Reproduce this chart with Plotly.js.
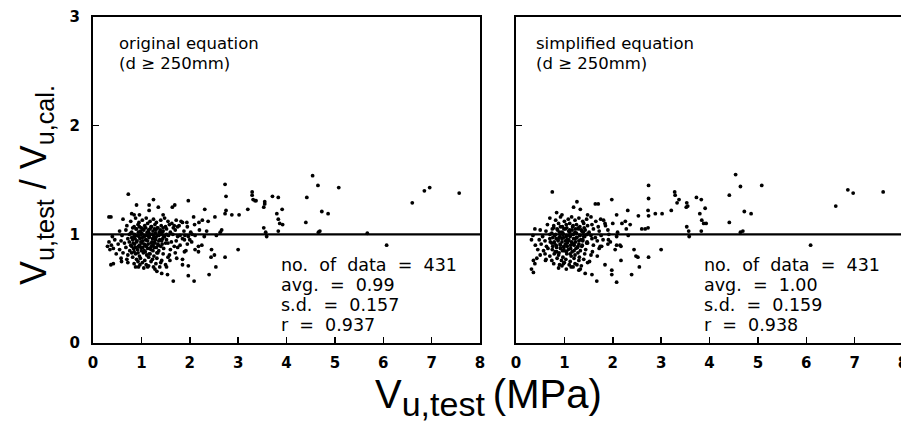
<!DOCTYPE html>
<html>
<head>
<meta charset="utf-8">
<script src="https://cdn.plot.ly/plotly-3.0.1.min.js"></script>
<style>
html,body{margin:0;padding:0;background:#fff;overflow:hidden;width:901px;height:430px;}
#chart{width:906px;height:430px;}
</style>
</head>
<body>
<div id="chart"></div>
<script>
// ---- data ----
const xTicks = [0,1,2,3,4,5,6,7,8];
const yTicks = [0,1,2,3];
const refLineX = [0, 8];
const refLineY = [1, 1];

const leftOuterX = [0.73,2.73,2.75,3.29,3.29,3.35,1.25,0.90,1.16,1.35,1.69,1.64,1.97,2.31,2.75,3.20,1.16,0.33,0.37,0.80,
  0.85,0.96,1.45,2.08,2.26,2.19,2.52,2.73,2.87,3.02,2.38,1.82,1.94,1.68,1.75,2.66,2.63,0.33,0.30,0.35,
  0.37,0.42,0.59,0.94,0.97,1.66,1.85,1.97,1.97,2.09,2.40,2.54,2.45,2.51,2.44,2.73,3.00,3.31,3.37,3.55,
  3.55,3.53,3.71,3.83,3.91,3.80,3.83,3.86,3.92,3.53,3.57,3.59,3.83,4.54,4.65,5.08,4.42,4.73,4.86,4.40,
  4.66,4.69,5.67,6.07,6.60,6.85,6.96,7.57,2.11,2.18,2.18,1.89,1.73,1.59,1.89,2.04,2.11,1.80,1.97,1.52,
  1.42,1.32,1.25,1.13,1.54];
const leftOuterY = [1.37,1.46,1.35,1.39,1.36,1.31,1.32,1.27,1.27,1.25,1.27,1.25,1.31,1.23,1.22,1.23,1.22,1.16,1.16,1.19,
  1.18,1.18,1.18,1.16,1.13,1.11,1.16,1.19,1.18,1.18,1.12,1.12,1.11,1.08,1.07,1.04,1.02,0.93,0.89,0.86,
  0.72,0.73,0.75,0.70,0.72,0.57,0.72,0.71,0.62,0.57,0.63,0.70,0.86,0.81,0.79,0.79,0.86,1.32,1.31,1.30,
  1.28,1.25,1.35,1.34,1.23,1.19,1.14,1.10,1.09,1.06,1.02,0.98,1.03,1.54,1.45,1.43,1.34,1.21,1.19,1.11,
  1.02,1.03,1.01,0.90,1.29,1.40,1.43,1.38,0.86,0.89,0.84,0.84,0.78,0.76,0.95,0.93,0.99,0.99,0.98,0.70,
  0.64,0.66,0.70,0.70,0.63];

const leftCoreX = [0.62,0.78,0.88,0.95,1.02,1.10,1.18,1.25,1.31,1.40,1.48,1.55,1.63,1.72,1.85,
  0.70,0.85,0.93,1.00,1.07,1.13,1.20,1.28,1.34,1.41,1.50,1.58,1.66,1.78,1.95,2.10,
  0.55,0.68,0.80,0.90,0.98,1.05,1.12,1.18,1.24,1.30,1.37,1.45,1.52,1.60,1.70,1.88,2.02,2.20,2.35,
  0.40,0.60,0.75,0.85,0.92,1.00,1.06,1.12,1.19,1.26,1.33,1.40,1.48,1.56,1.65,1.75,1.90,2.05,2.30,2.55,
  0.45,0.58,0.72,0.82,0.90,0.97,1.03,1.10,1.16,1.22,1.29,1.36,1.44,1.52,1.62,1.72,1.85,2.00,
  0.38,0.52,0.65,0.78,0.86,0.94,1.01,1.08,1.14,1.21,1.28,1.35,1.43,1.55,1.68,1.80,1.95,2.25,
  0.42,0.55,0.68,0.76,0.84,0.92,0.99,1.06,1.13,1.20,1.27,1.36,1.46,1.60,1.75,1.92,
  0.48,0.62,0.72,0.80,0.88,0.96,1.04,1.11,1.18,1.26,1.34,1.45,1.58,1.70,
  0.58,0.70,0.82,0.90,0.98,1.07,1.15,1.23,1.32,1.42,1.55,1.85,
  0.72,0.85,0.93,1.02,1.10,1.20,1.30,1.40,1.50,
  0.88,1.05,1.15,1.28,1.38];
const leftCoreY = [1.14,1.12,1.15,1.11,1.13,1.15,1.12,1.14,1.11,1.13,1.15,1.12,1.10,1.13,1.11,
  1.08,1.07,1.09,1.06,1.08,1.10,1.07,1.09,1.06,1.08,1.07,1.09,1.06,1.08,1.07,1.09,
  1.03,1.04,1.02,1.05,1.03,1.04,1.02,1.05,1.03,1.04,1.02,1.03,1.05,1.02,1.04,1.03,1.02,1.04,1.03,
  0.98,0.99,1.00,0.98,0.99,1.00,0.98,0.99,1.00,0.98,0.99,1.00,0.98,0.99,1.00,0.98,0.99,1.00,0.98,0.99,
  0.95,0.94,0.96,0.95,0.93,0.96,0.94,0.95,0.97,0.93,0.95,0.94,0.96,0.95,0.93,0.94,0.96,0.95,
  0.90,0.91,0.92,0.90,0.91,0.89,0.92,0.90,0.91,0.89,0.92,0.90,0.91,0.92,0.89,0.90,0.91,0.90,
  0.87,0.86,0.88,0.85,0.87,0.86,0.88,0.85,0.87,0.86,0.88,0.85,0.87,0.86,0.88,0.85,
  0.82,0.83,0.81,0.83,0.82,0.80,0.83,0.81,0.82,0.80,0.83,0.82,0.81,0.83,
  0.78,0.77,0.79,0.77,0.78,0.76,0.79,0.77,0.78,0.76,0.79,0.77,
  0.74,0.73,0.75,0.74,0.72,0.75,0.73,0.74,0.72,
  0.70,0.69,0.71,0.68,0.70];

const leftDenseX = [0.82,0.89,0.96,1.03,1.09,1.15,1.21,1.27,1.33,1.39,1.45,
  0.78,0.86,0.94,1.01,1.08,1.15,1.22,1.29,1.36,1.43,1.52,
  0.80,0.87,0.95,1.02,1.09,1.16,1.23,1.30,1.38,1.46,
  0.75,0.83,0.91,0.99,1.06,1.13,1.20,1.27,1.34,1.42,1.50,
  0.80,0.88,0.96,1.03,1.10,1.17,1.24,1.31,1.40,
  0.85,0.93,1.00,1.08,1.16,1.24,1.32];
const leftDenseY = [1.06,1.05,1.07,1.05,1.06,1.04,1.07,1.05,1.06,1.04,1.06,
  1.01,1.00,1.02,1.01,0.99,1.02,1.00,1.01,0.99,1.02,1.00,
  0.97,0.96,0.98,0.97,0.95,0.98,0.96,0.97,0.95,0.98,
  0.93,0.92,0.94,0.93,0.91,0.94,0.92,0.93,0.91,0.94,0.92,
  0.89,0.88,0.90,0.88,0.89,0.87,0.90,0.88,0.89,
  0.84,0.83,0.85,0.84,0.82,0.85,0.83];

const rightOuterX = [0.75,2.74,2.74,3.28,3.29,3.33,3.37,1.26,1.19,1.33,1.64,1.70,1.98,2.31,2.73,2.74,2.88,3.02,3.21,2.08,
  0.84,0.95,1.48,2.53,2.19,2.26,2.36,1.84,1.81,2.60,2.67,2.73,0.39,0.32,0.36,0.32,0.36,0.43,0.39,0.61,
  0.95,0.98,1.14,1.26,1.33,1.43,1.57,1.67,1.84,1.98,1.98,2.08,2.39,2.55,2.44,2.48,2.52,2.74,3.00,2.17,
  2.05,2.08,2.17,1.77,1.91,3.53,3.55,3.52,3.73,3.83,3.91,3.80,3.84,3.88,3.93,3.53,3.57,3.58,3.83,4.54,
  4.64,5.08,4.41,4.72,4.86,4.41,4.64,4.69,6.09,6.61,6.86,6.97,7.59];
const rightOuterY = [1.39,1.45,1.33,1.39,1.36,1.29,1.32,1.30,1.25,1.23,1.28,1.28,1.32,1.22,1.22,1.17,1.19,1.19,1.22,1.18,
  1.20,1.18,1.18,1.17,1.10,1.12,1.09,1.10,1.13,1.05,1.05,1.06,1.05,0.95,0.76,0.68,0.65,0.78,0.73,0.76,
  0.71,0.73,0.70,0.72,0.68,0.64,0.63,0.57,0.72,0.67,0.63,0.56,0.63,0.70,0.86,0.80,0.79,0.79,0.86,0.76,
  0.86,0.90,0.89,0.89,0.95,1.29,1.26,1.25,1.34,1.32,1.24,1.19,1.13,1.10,1.10,1.07,1.03,0.98,1.03,1.55,
  1.44,1.45,1.36,1.21,1.19,1.11,1.02,1.03,0.90,1.26,1.41,1.38,1.39];

const rightCoreX = [0.70,0.82,0.92,1.00,1.08,1.15,1.22,1.30,1.38,1.46,1.55,1.65,1.75,
  0.65,0.78,0.88,0.96,1.04,1.11,1.18,1.25,1.32,1.40,1.48,1.57,1.70,1.85,2.00,
  0.50,0.62,0.75,0.86,0.95,1.02,1.09,1.16,1.22,1.29,1.36,1.43,1.51,1.60,1.72,1.90,2.10,2.28,
  0.35,0.55,0.70,0.80,0.89,0.97,1.04,1.11,1.18,1.25,1.32,1.40,1.47,1.55,1.64,1.76,1.92,2.08,2.32,
  0.48,0.60,0.70,0.79,0.87,0.95,1.02,1.09,1.15,1.22,1.30,1.38,1.47,1.57,1.68,1.80,1.95,
  0.40,0.52,0.63,0.74,0.83,0.91,0.99,1.06,1.13,1.20,1.28,1.37,1.48,1.60,1.74,1.90,2.15,
  0.45,0.57,0.66,0.75,0.84,0.92,1.00,1.08,1.16,1.24,1.33,1.44,1.58,1.72,
  0.50,0.60,0.70,0.79,0.88,0.97,1.05,1.14,1.22,1.31,1.42,1.55,1.68,
  0.62,0.74,0.85,0.94,1.03,1.12,1.20,1.30,1.40,1.52,
  0.78,0.90,1.00,1.10,1.22,1.35,1.48,
  0.88,1.04,1.18,1.30];
const rightCoreY = [1.15,1.13,1.16,1.12,1.14,1.16,1.13,1.15,1.12,1.14,1.16,1.12,1.14,
  1.09,1.08,1.10,1.07,1.09,1.10,1.08,1.09,1.07,1.10,1.08,1.09,1.07,1.08,1.10,
  1.04,1.03,1.05,1.04,1.02,1.05,1.03,1.04,1.02,1.05,1.03,1.04,1.02,1.05,1.03,1.04,1.02,1.05,
  0.99,0.98,1.00,0.99,0.97,1.00,0.98,0.99,1.00,0.97,0.99,0.98,1.00,0.99,0.97,0.99,1.00,0.98,0.99,
  0.95,0.94,0.96,0.93,0.95,0.96,0.94,0.95,0.93,0.96,0.94,0.95,0.93,0.96,0.94,0.95,0.93,
  0.90,0.91,0.89,0.92,0.90,0.91,0.89,0.92,0.90,0.91,0.89,0.90,0.92,0.90,0.89,0.91,0.90,
  0.86,0.85,0.87,0.86,0.84,0.87,0.85,0.86,0.84,0.87,0.85,0.86,0.84,0.87,
  0.81,0.82,0.80,0.82,0.81,0.79,0.82,0.80,0.81,0.79,0.82,0.81,0.80,
  0.77,0.76,0.78,0.76,0.77,0.75,0.78,0.76,0.77,0.75,
  0.73,0.72,0.74,0.72,0.73,0.71,0.74,
  0.69,0.68,0.70,0.67];

const rightDenseX = [0.78,0.85,0.92,0.99,1.05,1.11,1.17,1.23,1.29,1.35,1.41,
  0.74,0.82,0.90,0.97,1.04,1.11,1.18,1.25,1.32,1.39,1.47,
  0.76,0.83,0.91,0.98,1.05,1.12,1.19,1.26,1.34,1.42,
  0.71,0.79,0.87,0.95,1.02,1.09,1.16,1.23,1.30,1.38,1.46,
  0.76,0.84,0.92,0.99,1.06,1.13,1.20,1.27,1.36,
  0.81,0.89,0.96,1.04,1.12,1.20,1.28];
const rightDenseY = [1.06,1.05,1.07,1.05,1.06,1.04,1.07,1.05,1.06,1.04,1.06,
  1.01,1.00,1.02,1.01,0.99,1.02,1.00,1.01,0.99,1.02,1.00,
  0.97,0.96,0.98,0.97,0.95,0.98,0.96,0.97,0.95,0.98,
  0.93,0.92,0.94,0.93,0.91,0.94,0.92,0.93,0.91,0.94,0.92,
  0.89,0.88,0.90,0.88,0.89,0.87,0.90,0.88,0.89,
  0.84,0.83,0.85,0.84,0.82,0.85,0.83];

const leftLabel = ["original equation", "(d \u2265 250mm)"];
const rightLabel = ["simplified equation", "(d \u2265 250mm)"];
const leftStats = ["no.\u00a0 of\u00a0 data\u00a0 =\u00a0 431", "avg.\u00a0 =\u00a0 0.99", "s.d.\u00a0 =\u00a0 0.157", "r\u00a0 =\u00a0 0.937"];
const rightStats = ["no.\u00a0 of\u00a0 data\u00a0 =\u00a0 431", "avg.\u00a0 =\u00a0 1.00", "s.d.\u00a0 =\u00a0 0.159", "r\u00a0 =\u00a0 0.938"];
const labelLineY = [2.76, 2.575];
const statLineY = [0.718, 0.534, 0.350, 0.166];

// ---- chart ----
const FONT = "DejaVu Sans, Liberation Sans, sans-serif";
const dotMarker = {color: "#000", size: 3.8, symbol: "circle", line: {width: 0}};

const traces = [
  {x: leftOuterX.concat(leftCoreX, leftDenseX), y: leftOuterY.concat(leftCoreY, leftDenseY), type: "scatter", mode: "markers",
   marker: dotMarker, xaxis: "x", yaxis: "y", hoverinfo: "skip"},
  {x: refLineX, y: refLineY, type: "scatter", mode: "lines", line: {color: "#000", width: 2.4},
   xaxis: "x", yaxis: "y", hoverinfo: "skip"},
  {x: rightOuterX.concat(rightCoreX, rightDenseX), y: rightOuterY.concat(rightCoreY, rightDenseY), type: "scatter", mode: "markers",
   marker: dotMarker, xaxis: "x2", yaxis: "y2", hoverinfo: "skip"},
  {x: refLineX, y: refLineY, type: "scatter", mode: "lines", line: {color: "#000", width: 2.4},
   xaxis: "x2", yaxis: "y2", hoverinfo: "skip"}
];

const W = 906;
const tickFont = {family: FONT, size: 15, color: "#000", weight: "bold"};
function xAx(domain, anchor) {
  return {domain: domain, anchor: anchor, range: [0, 8], tickvals: xTicks, ticktext: xTicks.map(String),
    ticks: "inside", ticklen: 6, tickwidth: 1.5, tickcolor: "#000", ticklabelstandoff: 5,
    ticklabeloverflow: "allow",
    showline: true, linecolor: "#000", linewidth: 2, mirror: true,
    showgrid: false, zeroline: false, tickfont: tickFont, fixedrange: true};
}
function yAx(anchor, labels) {
  return {domain: [0.2023, 0.9605], anchor: anchor, range: [0, 3], tickvals: yTicks, ticktext: yTicks.map(String),
    ticks: "inside", ticklen: 6, tickwidth: 1.5, tickcolor: "#000", ticklabelstandoff: 8,
    showline: true, linecolor: "#000", linewidth: 2, mirror: true,
    showgrid: false, zeroline: false, tickfont: tickFont, showticklabels: labels, fixedrange: true};
}

const annotations = [];
function addLines(lines, ys, xr, yr, x, size) {
  lines.forEach((t, i) => annotations.push({xref: xr, yref: yr, x: x, y: ys[i], xanchor: "left", yanchor: "middle",
    align: "left", showarrow: false, text: t, font: {family: FONT, size: size, color: "#000"}}));
}
addLines(leftLabel, labelLineY, "x", "y", 0.50, 16.5);
addLines(rightLabel, labelLineY, "x2", "y2", 0.38, 16.5);
addLines(leftStats, statLineY, "x", "y", 3.85, 17.5);
addLines(rightStats, statLineY, "x2", "y2", 3.85, 17.5);
annotations.push(
  {xref: "paper", yref: "paper", x: 488 / W, y: 0.075, xanchor: "center", yanchor: "middle", showarrow: false,
   text: "V<sub><span style=\"font-size:34px\">u,test</span></sub>\u2009(MPa)",
   font: {family: "Liberation Sans, sans-serif", size: 40, color: "#000"}},
  {xref: "paper", yref: "paper", x: 36 / W, y: 0.57, xanchor: "center", yanchor: "middle", showarrow: false,
   textangle: -90, text: "V<sub>u,test</sub> / V<sub>u,cal.</sub>",
   font: {family: "Liberation Sans, sans-serif", size: 36, color: "#000"}}
);

const layout = {
  width: W, height: 430,
  margin: {l: 0, r: 0, t: 0, b: 0},
  paper_bgcolor: "#fff", plot_bgcolor: "#fff",
  showlegend: false,
  xaxis: xAx([93 / W, 480 / W], "y"),
  yaxis: yAx("x", true),
  xaxis2: xAx([516 / W, 903 / W], "y2"),
  yaxis2: yAx("x2", false),
  annotations: annotations
};

Plotly.newPlot("chart", traces, layout, {staticPlot: true, displayModeBar: false});
</script>
</body>
</html>
